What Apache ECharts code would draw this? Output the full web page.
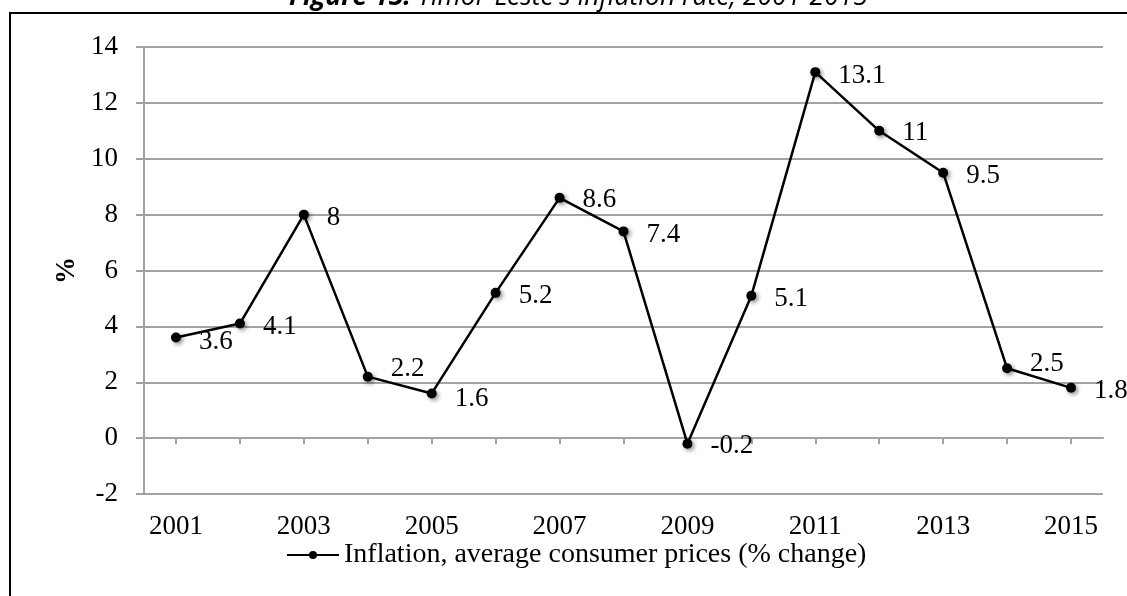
<!DOCTYPE html>
<html>
<head>
<meta charset="utf-8">
<title>Timor-Leste inflation rate, 2001-2015</title>
<script src="https://cdn.jsdelivr.net/npm/echarts@6/dist/echarts.min.js"></script>
<style>
  html, body { margin: 0; padding: 0; background: #ffffff; }
  #chart { width: 1127px; height: 596px; }
</style>
</head>
<body>
<div id="chart"></div>
<script>
// Calendar years on the category axis
const years = ['2001', '2002', '2003', '2004', '2005', '2006', '2007', '2008',
               '2009', '2010', '2011', '2012', '2013', '2014', '2015'];
// Inflation, average consumer prices (% change)
const inflation = [3.6, 4.1, 8, 2.2, 1.6, 5.2, 8.6, 7.4, -0.2, 5.1, 13.1, 11, 9.5, 2.5, 1.8];
// Value axis range and step (%)
const yMin = -2;
const yMax = 14;
const yStep = 2;

const seriesName = 'Inflation, average consumer prices (% change)';
const titleLead = 'Figure 15:';
const titleRest = " Timor-Leste's inflation rate, 2001-2015";

// Small vertical nudges for the value labels so they clear the line
const labelShiftY = [4, 3, 3, -8, 5, 3, 2, 4, 2, 3, 4, 2, 3, -4, 3];

const serif = '"Liberation Serif", "DejaVu Serif", serif';
const sans = '"Open Sans", sans-serif';
const gridGray = '#a3a3a3';

const chart = echarts.init(document.getElementById('chart'), null, { renderer: 'canvas' });

chart.setOption({
  backgroundColor: '#ffffff',
  animation: false,
  // Caption sits above the framed figure, running off the top edge
  title: {
    text: '{b|' + titleLead + '}{i|' + titleRest + '}',
    left: 289,
    top: -16,
    padding: 0,
    textStyle: {
      rich: {
        b: { fontFamily: sans, fontStyle: 'italic', fontWeight: 'bold', fontSize: 26.5, color: '#000' },
        i: { fontFamily: sans, fontStyle: 'italic', fontWeight: 'normal', fontSize: 26.5, color: '#000' }
      }
    }
  },
  graphic: [{
    type: 'rect',
    silent: true,
    shape: { x: 10, y: 13, width: 1200, height: 700 },
    style: { fill: null, stroke: '#000000', lineWidth: 2 }
  }],
  grid: { left: 144, right: 24, top: 47, bottom: 102, containLabel: false },
  legend: {
    data: [seriesName],
    left: 286,
    top: 541,
    itemWidth: 52,
    itemHeight: 10,
    padding: 0,
    textStyle: { fontFamily: serif, fontSize: 28, color: '#000' }
  },
  xAxis: {
    type: 'category',
    data: years,
    boundaryGap: true,
    axisLine: { lineStyle: { color: gridGray, width: 2 } },
    axisTick: { show: true, interval: 0, alignWithLabel: true, length: 6, lineStyle: { color: gridGray, width: 2 } },
    axisLabel: { interval: 1, margin: 19, fontFamily: serif, fontSize: 27, color: '#000' },
    splitLine: { show: false }
  },
  yAxis: {
    type: 'value',
    min: yMin,
    max: yMax,
    interval: yStep,
    name: '%',
    nameLocation: 'middle',
    nameRotate: 90,
    nameGap: 63,
    nameTextStyle: { fontFamily: serif, fontSize: 27, fontWeight: 'bold', color: '#000' },
    axisLine: { show: true, lineStyle: { color: gridGray, width: 2 } },
    axisTick: { show: true, length: 8, lineStyle: { color: gridGray, width: 2 } },
    axisLabel: { margin: 26, fontFamily: serif, fontSize: 27, color: '#000' },
    splitLine: { show: true, lineStyle: { color: gridGray, width: 2 } }
  },
  series: [{
    name: seriesName,
    type: 'line',
    data: inflation.map((v, i) => ({ value: v, label: { offset: [0, labelShiftY[i]] } })),
    symbol: 'circle',
    symbolSize: 10,
    showAllSymbol: true,
    lineStyle: { color: '#000000', width: 2.5 },
    itemStyle: {
      color: '#000000',
      shadowColor: 'rgba(0,0,0,0.45)',
      shadowBlur: 4,
      shadowOffsetX: 2,
      shadowOffsetY: 2
    },
    label: {
      show: true,
      position: 'right',
      distance: 18,
      fontFamily: serif,
      fontSize: 27,
      color: '#000'
    },
    emphasis: { disabled: true }
  }]
});
</script>
</body>
</html>
